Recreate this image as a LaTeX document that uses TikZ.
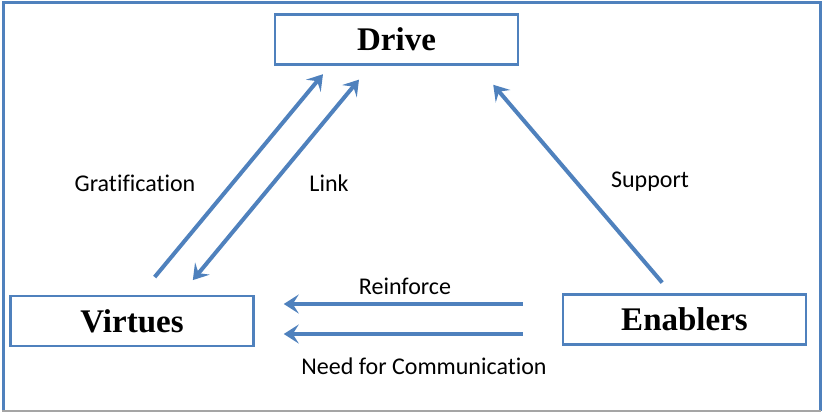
\documentclass[tikz,border=0pt]{standalone}
\usepackage{fontspec}
\setmainfont{Carlito}[Ligatures=CommonOff]
\newfontfamily\boxfont{Liberation Serif}
\usetikzlibrary{arrows.meta}
\usetikzlibrary{calc}
\definecolor{officeblue}{RGB}{79,129,189}
\definecolor{framegray}{RGB}{165,165,165}

\begin{document}
\begin{tikzpicture}[x=1pt,y=-1pt,
	box/.style={draw=officeblue,line width=2.5pt,minimum width=243pt,minimum height=50pt,inner sep=0pt,
		font=\boxfont\bfseries\fontsize{33}{36}\selectfont},
	flow/.style={officeblue,line width=4pt},
	lbl/.style={font=\fontsize{24}{28}\selectfont},
	>={Stealth[length=15pt,width=19pt,inset=6pt]}]
	
	\useasboundingbox (0,0) rectangle (822,412);
	
	% Frame
	\draw [officeblue,line width=3pt] (3,411) -- (3,3) -- (820,3) -- (820,411);
	\draw [framegray,line width=2pt] (2,411) -- (821,411);
	
	% Boxes
	\node [box] (drive) at (396.5,39.5) {Drive};
	\node [box] (virtues) at (132,321) {Virtues};
	\node [box] (enablers) at (684.5,319.5) {Enablers};
	
	% Arrows to and from Drive
	\draw [flow,->,shorten <=23pt,shorten >=11pt] ([xshift=8pt]virtues.north) -- ([xshift=-66.5pt]drive.south);
	\draw [flow,<->,shorten <=18pt,shorten >=19pt] ([xshift=-26pt]drive.south) -- ([xshift=48.7pt]virtues.north);
	\draw [flow,->,shorten <=14pt,shorten >=25pt] ([xshift=-13.2pt]enablers.north) -- ([xshift=80.5pt]drive.south);
	
	% Arrows from Enablers to Virtues
	\draw [flow,->,shorten <=39pt,shorten >=29pt] ([yshift=15.5pt]enablers.west) coordinate (r) -- (r -| virtues.east);
	\draw [flow,->,shorten <=39pt,shorten >=29pt] ([yshift=-14.5pt]enablers.west) coordinate (n) -- (n -| virtues.east);
	
	% Labels
	\node [lbl] (gratlbl) at (135,183) {Gratification};
	\node [lbl] (linklbl) at (329,183) {Link};
	\node [lbl] (supportlbl) at (650,182) {Support};
	\node [lbl] (reinforcelbl) at (405,286) {Reinforce};
	\node [lbl] (needlbl) at (424,366) {Need for Communication};
	
\end{tikzpicture}
\end{document}
